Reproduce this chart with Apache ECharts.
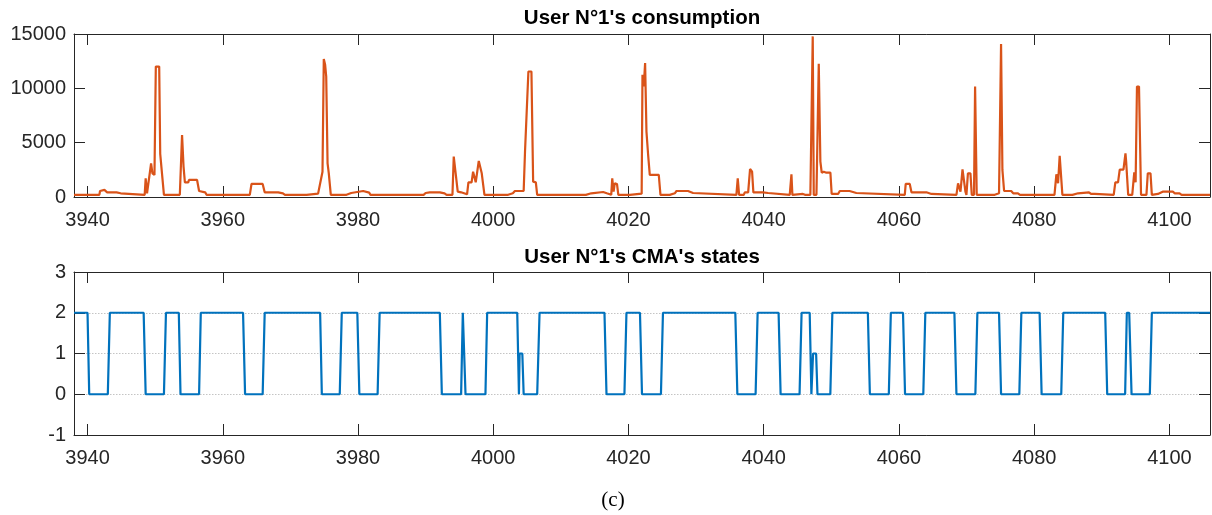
<!DOCTYPE html>
<html>
<head>
<meta charset="utf-8">
<script src="https://cdn.jsdelivr.net/npm/echarts@6/dist/echarts.min.js"></script>
<style>
html,body{margin:0;padding:0;background:#fff;}
#chart{width:1212px;height:515px;}
</style>
</head>
<body>
<div id="chart"></div>
<script>
// ---- data ----
const xTicks = [3940, 3960, 3980, 4000, 4020, 4040, 4060, 4080, 4100];
const consTicks = [0, 5000, 10000, 15000];
const stateTicks = [-1, 0, 1, 2, 3];

const consTimes = [
3938,3941.75,3941.85,3942.5,3942.9,3944.3,3944.4,3944.9,3945.05,3948.45,3948.6,3948.8,3949.4,3949.6,3949.9,3950.1,3950.6,3950.75,3951.0,3951.3,
3953.65,3953.98,3954.2,3954.3,3954.4,3954.9,3955.0,3956.2,3956.5,3956.6,3957.4,3957.6,3964.0,3964.25,3965.9,3966.0,3966.2,3968.2,3968.3,3968.9,
3969.2,3972.4,3972.6,3974.1,3974.35,3974.75,3974.94,3975.14,3975.3,3975.5,3975.68,3975.83,3975.98,3978.3,3978.4,3979.0,3979.2,3980.76,3981.0,3981.65,
3981.85,3989.7,3990.0,3990.6,3992.1,3992.3,3992.8,3993.1,3993.97,3994.16,3994.4,3994.55,3994.75,3995.25,3995.44,3996.13,3996.33,3996.8,3997.02,3997.25,
3997.41,3997.6,3997.86,3998.15,3998.3,3998.5,3998.7,4002.2,4002.4,4002.9,4003.2,4004.5,4004.7,4004.95,4005.2,4005.65,4005.9,4006.3,4006.5,4013.7,
4013.9,4014.5,4014.7,4016.25,4016.5,4016.8,4017.0,4017.45,4017.6,4017.8,4017.97,4018.3,4018.5,4020.2,4020.4,4021.95,4022.07,4022.26,4022.46,4022.66,
4022.9,4023.15,4024.48,4024.73,4026.1,4026.35,4026.85,4027.1,4028.8,4029.06,4029.55,4029.8,4035.96,4036.16,4036.36,4037.05,4037.2,4037.7,4037.98,4038.28,
4038.47,4039.9,4040.15,4040.65,4040.9,4043.85,4044.1,4044.24,4044.3,4045.8,4046.1,4046.9,4047.25,4047.4,4047.8,4048.14,4048.38,4048.58,4048.88,4049.27,
4049.86,4050.05,4051.0,4051.25,4052.7,4052.97,4053.7,4053.96,4060.86,4061.0,4061.6,4061.85,4064.06,4064.3,4064.8,4065.05,4068.5,4068.74,4068.99,4069.1,
4069.4,4069.6,4069.83,4069.98,4070.2,4070.57,4070.77,4071.1,4071.26,4071.36,4071.5,4074.17,4074.3,4074.8,4075.1,4075.3,4075.55,4076.6,4076.9,4077.6,
4077.9,4083.0,4083.28,4083.53,4083.77,4084.02,4084.17,4085.65,4085.85,4086.5,4086.6,4088.1,4088.4,4088.95,4089.1,4091.76,4092.0,4092.4,4092.65,4093.2,
4093.5,4093.6,4093.9,4094.5,4094.8,4095.0,4095.2,4095.5,4095.8,4096.6,4096.8,4097.2,4097.4,4097.6,4098.3,4099.0,4100.5,4100.8,4101.5,4101.8,
4106
];
const consValues = [
200,200,550,650,430,430,340,340,200,200,1720,340,3100,2180,2030,12000,12000,3960,3960,200,
200,5710,2800,2800,1350,1350,1570,1570,550,430,430,200,200,1200,1200,1350,430,430,340,340,
200,200,310,310,200,2330,12700,12170,11090,3100,2180,2180,200,200,370,370,550,550,400,400,
200,200,370,430,430,340,340,200,200,3720,2400,2400,490,430,250,250,1350,1350,2330,2330,
1350,1350,3320,3260,2180,2120,200,200,340,340,550,550,4180,4120,11550,11550,1410,1350,200,200,
340,340,460,460,340,340,200,200,1720,490,1260,1200,200,200,310,310,11250,10170,12320,6020,
3930,2030,2030,200,200,340,340,550,550,370,370,200,200,1720,200,200,430,430,2580,2330,
430,430,370,370,200,200,2090,200,280,280,200,200,14780,200,200,12260,3260,2240,2330,2240,
2240,280,280,550,550,370,370,200,200,1200,1200,430,430,280,280,200,200,1260,1350,490,
2550,2490,490,200,2180,2180,200,200,10170,10170,200,200,340,340,14070,2490,550,550,340,340,
200,200,2090,1260,3780,3720,200,200,340,340,430,430,280,280,200,200,1350,1350,2520,2520,
4020,3260,200,200,2270,1350,10170,10170,200,200,2180,2180,200,280,280,490,490,340,340,200,
200
];

const stateTimes = [
3938,3940.0,3940.25,3943.0,3943.3,3948.3,3948.6,3951.3,3951.6,3953.5,3953.75,3956.5,3956.75,3963.0,3963.3,3965.9,3966.2,3974.4,3974.65,3977.3,
3977.6,3979.9,3980.2,3982.9,3983.2,3992.1,3992.4,3995.25,3995.5,3995.6,3995.9,3998.85,3999.1,4003.55,4003.8,4003.9,4004.3,4004.5,4006.5,4006.85,
4016.45,4016.75,4019.4,4019.7,4021.7,4022.0,4024.8,4025.1,4035.8,4036.1,4038.8,4039.1,4042.2,4042.5,4045.3,4045.6,4046.8,4047.05,4047.3,4047.75,
4047.95,4049.85,4050.15,4055.4,4055.7,4058.5,4058.8,4060.6,4060.9,4063.6,4063.9,4068.2,4068.5,4071.3,4071.6,4074.8,4075.1,4077.8,4078.1,4080.8,
4081.1,4084.0,4084.3,4090.5,4090.8,4093.45,4093.7,4094.05,4094.4,4097.1,4097.4,4106
];
const stateValues = [
2,2,0,0,2,2,0,0,2,2,0,0,2,2,0,0,2,2,0,0,
2,2,0,0,2,2,0,0,2,2,0,0,2,2,0,1,1,0,0,2,
2,0,0,2,2,0,0,2,2,0,0,2,2,0,0,2,2,0,1,1,
0,0,2,2,0,0,2,2,0,0,2,2,0,0,2,2,0,0,2,2,
0,0,2,2,0,0,2,2,0,0,2,2
];

const consData = consTimes.map((t, i) => [t, consValues[i]]);
const stateData = stateTimes.map((t, i) => [t, stateValues[i]]);

// ---- styling ----
const AX = '#262626';
const FONT = '"Liberation Sans", Arial, Helvetica, sans-serif';
const XMIN = 3938, XMAX = 4106;
const plain = v => String(v);

function xAxis(grid, bottom) {
  return {
    type: 'value', gridIndex: grid, min: XMIN, max: XMAX,
    position: bottom ? 'bottom' : 'top',
    axisLine: { show: true, onZero: false, lineStyle: { color: AX, width: 1 } },
    axisTick: { show: true, inside: true, length: 11, customValues: xTicks, lineStyle: { color: AX, width: 1 } },
    axisLabel: { show: bottom, customValues: xTicks, formatter: plain, fontSize: 20, color: AX, fontFamily: FONT, margin: 13 },
    splitLine: { show: false }
  };
}
function yAxis(grid, left, min, max, interval, ticks, grids) {
  return {
    type: 'value', gridIndex: grid, min: min, max: max, interval: interval,
    position: left ? 'left' : 'right',
    axisLine: { show: true, onZero: false, lineStyle: { color: AX, width: 1 } },
    axisTick: { show: true, inside: true, length: 11, customValues: ticks, lineStyle: { color: AX, width: 1 } },
    axisLabel: { show: left, customValues: ticks, formatter: plain, fontSize: 20, color: AX, fontFamily: FONT, margin: 8 },
    splitLine: { show: !!grids, lineStyle: { color: '#c4c4c4', type: [1.5, 1.5], width: 1 } }
  };
}

const chart = echarts.init(document.getElementById('chart'), null, { renderer: 'canvas' });
chart.setOption({
  animation: false,
  backgroundColor: '#ffffff',
  grid: [
    { left: 74, right: 2, top: 34, height: 163 },
    { left: 74, right: 2, top: 272, height: 163 }
  ],
  xAxis: [xAxis(0, true), xAxis(0, false), xAxis(1, true), xAxis(1, false)],
  yAxis: [
    yAxis(0, true, 0, 15000, 5000, consTicks, false),
    yAxis(0, false, 0, 15000, 5000, consTicks, false),
    yAxis(1, true, -1, 3, 1, stateTicks, true),
    yAxis(1, false, -1, 3, 1, stateTicks, false)
  ],
  series: [
    { type: 'line', xAxisIndex: 0, yAxisIndex: 0, data: consData, showSymbol: false, symbol: 'none',
      lineStyle: { color: '#D95319', width: 2.2 }, itemStyle: { color: '#D95319' } },
    { type: 'line', xAxisIndex: 2, yAxisIndex: 2, data: stateData, showSymbol: false, symbol: 'none',
      lineStyle: { color: '#0072BD', width: 2.2 }, itemStyle: { color: '#0072BD' } }
  ],
  graphic: [
    { type: 'text', x: 642, y: 18, style: { text: "User N°1's consumption", align: 'center', verticalAlign: 'middle', textAlign: 'center', textVerticalAlign: 'middle', font: 'bold 20.5px ' + FONT, fill: '#000' } },
    { type: 'text', x: 642, y: 257, style: { text: "User N°1's CMA's states", align: 'center', verticalAlign: 'middle', textAlign: 'center', textVerticalAlign: 'middle', font: 'bold 20.5px ' + FONT, fill: '#000' } },
    { type: 'text', x: 613, y: 500, style: { text: '(c)', align: 'center', verticalAlign: 'middle', textAlign: 'center', textVerticalAlign: 'middle', font: '21px "Liberation Serif", "Times New Roman", serif', fill: '#000' } }
  ]
});
</script>
</body>
</html>
